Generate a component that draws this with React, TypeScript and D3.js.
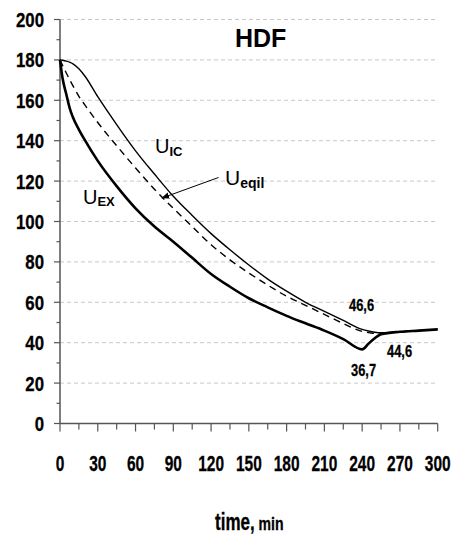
import React from "react";
import * as d3 from "d3";

// Sampling times (min)
const time = [0, 2, 5, 8, 10, 15, 20, 30, 45, 60, 75, 90, 105, 120, 135, 150, 165, 180, 195, 210, 225, 240, 245, 250, 255, 270, 285, 300];

// Urea concentration curves
const uIC = [180, 179.8, 179.4, 178.8, 178.2, 175.6, 171.8, 161.8, 148, 135, 123.5, 112.5, 103, 94, 86, 78.5, 71.5, 65.5, 60, 55.5, 51, 46.6, 45.8, 45.2, 44.9, 45.4, 46, 46.6];
const uEqil = [180, 177.3, 173.5, 169.8, 167.5, 162, 157.5, 149, 137.5, 126.5, 116, 106.5, 97.5, 88.5, 81, 74.5, 68.5, 63, 58.5, 54, 49.5, 45.6, 45, 44.6, 44.8, 45.4, 46, 46.6];
const uEX = [180, 171, 163, 155.5, 152, 145.5, 140, 130, 117.5, 106.5, 97.5, 90, 82, 74, 67.7, 62, 57.5, 53.3, 49.6, 46, 41.8, 36.7, 39.5, 42.2, 44.2, 45.4, 46, 46.6];

const xTicks = [0, 30, 60, 90, 120, 150, 180, 210, 240, 270, 300];
const yTicks = [0, 20, 40, 60, 80, 100, 120, 140, 160, 180, 200];

const W = 457;
const H = 534;
const left = 60;
const right = 437.7;
const top = 19.5;
const bottom = 423.5;

const sans = "'Liberation Sans', Arial, sans-serif";

// Bold condensed text: Liberation Sans squeezed horizontally
function NarrowText({
  x,
  y,
  size,
  squeeze = 0.8,
  anchor = "start",
  dy = 0,
  children,
}: {
  x: number;
  y: number;
  size: number;
  squeeze?: number;
  anchor?: "start" | "middle" | "end";
  dy?: number | string;
  children: React.ReactNode;
}) {
  return (
    <text
      transform={`translate(${x},${y}) scale(${squeeze},1)`}
      dy={dy}
      textAnchor={anchor}
      fontFamily={sans}
      fontWeight="bold"
      fontSize={size}
      fill="#000"
      stroke="#000"
      strokeWidth={0.3}
    >
      {children}
    </text>
  );
}

export default function App() {
  const x = d3.scaleLinear().domain([0, 300]).range([left, right]);
  const y = d3.scaleLinear().domain([0, 200]).range([bottom, top]);

  const line = (vals: number[]) =>
    d3
      .line<number>()
      .x((_, i) => x(time[i]))
      .y((v) => y(v))
      .curve(d3.curveMonotoneX)(vals) as string;

  const minorY = d3.range(10, 200, 20);
  const xTickAll = d3.range(0, 301, 15);

  return (
    <svg
      width={W}
      height={H}
      style={{ position: "absolute", left: 0, top: 0, background: "#fff" }}
    >
      <defs>
        <marker id="arrowHead" viewBox="0 0 10 10" refX="9" refY="5" markerWidth="8" markerHeight="8" orient="auto">
          <path d="M0,1 L10,5 L0,9 z" fill="#000" />
        </marker>
      </defs>

      {/* horizontal grid */}
      {yTicks.slice(1).map((t) => (
        <line key={"g" + t} x1={left} x2={right} y1={y(t)} y2={y(t)} stroke="#c8c8c8" strokeWidth={1} strokeDasharray="4,3" />
      ))}

      {/* axes */}
      <line x1={left} x2={left} y1={top} y2={bottom} stroke="#555" strokeWidth={1.5} />
      <line x1={left} x2={right} y1={bottom} y2={bottom} stroke="#555" strokeWidth={1.5} />
      {yTicks.map((t) => (
        <line key={"yt" + t} x1={left - 6} x2={left} y1={y(t)} y2={y(t)} stroke="#555" strokeWidth={1.2} />
      ))}
      {minorY.map((t) => (
        <line key={"ym" + t} x1={left - 3.5} x2={left} y1={y(t)} y2={y(t)} stroke="#555" strokeWidth={1.2} />
      ))}
      {xTickAll.map((t) => (
        <line key={"xt" + t} x1={x(t)} x2={x(t)} y1={bottom} y2={bottom + (t % 30 === 0 ? 8 : 6)} stroke="#555" strokeWidth={1.2} />
      ))}

      {/* tick labels */}
      {yTicks.map((t) => (
        <NarrowText key={"yl" + t} x={44} y={y(t)} dy="0.36em" size={21} squeeze={0.8} anchor="end">
          {t}
        </NarrowText>
      ))}
      {xTicks.map((t) => (
        <NarrowText key={"xl" + t} x={x(t)} y={470.5} size={21.5} squeeze={0.72} anchor="middle">
          {t}
        </NarrowText>
      ))}

      {/* curves */}
      <path d={line(uIC)} fill="none" stroke="#000" strokeWidth={1.4} />
      <path d={line(uEqil)} fill="none" stroke="#000" strokeWidth={1.4} strokeDasharray="7,5" />
      <path d={line(uEX)} fill="none" stroke="#000" strokeWidth={2.6} />

      {/* curve labels */}
      <text x={155} y={153} fontFamily={sans} fontSize={20} fill="#000">
        U<tspan fontSize={13} fontWeight="bold" dy={3}>IC</tspan>
      </text>
      <text x={225} y={185} fontFamily={sans} fontSize={21} fill="#000">
        U<tspan fontSize={14} fontWeight="bold" dy={3}>eqil</tspan>
      </text>
      <text x={83} y={204} fontFamily={sans} fontSize={20} fill="#000">
        U<tspan fontSize={13} fontWeight="bold" dy={2}>EX</tspan>
      </text>
      <line x1={218.5} y1={177.5} x2={162} y2={198} stroke="#000" strokeWidth={1} markerEnd="url(#arrowHead)" />

      {/* value labels */}
      <NarrowText x={349} y={311} size={17} squeeze={0.76}>46,6</NarrowText>
      <NarrowText x={387} y={357} size={17} squeeze={0.76}>44,6</NarrowText>
      <NarrowText x={351} y={376} size={17} squeeze={0.76}>36,7</NarrowText>

      {/* title */}
      <text x={235} y={47} fontFamily={sans} fontWeight="bold" fontSize={25} fill="#000">HDF</text>

      {/* x axis title */}
      <NarrowText x={215} y={530} size={23} squeeze={0.74}>
        time,<tspan fontSize={19}> min</tspan>
      </NarrowText>
    </svg>
  );
}
